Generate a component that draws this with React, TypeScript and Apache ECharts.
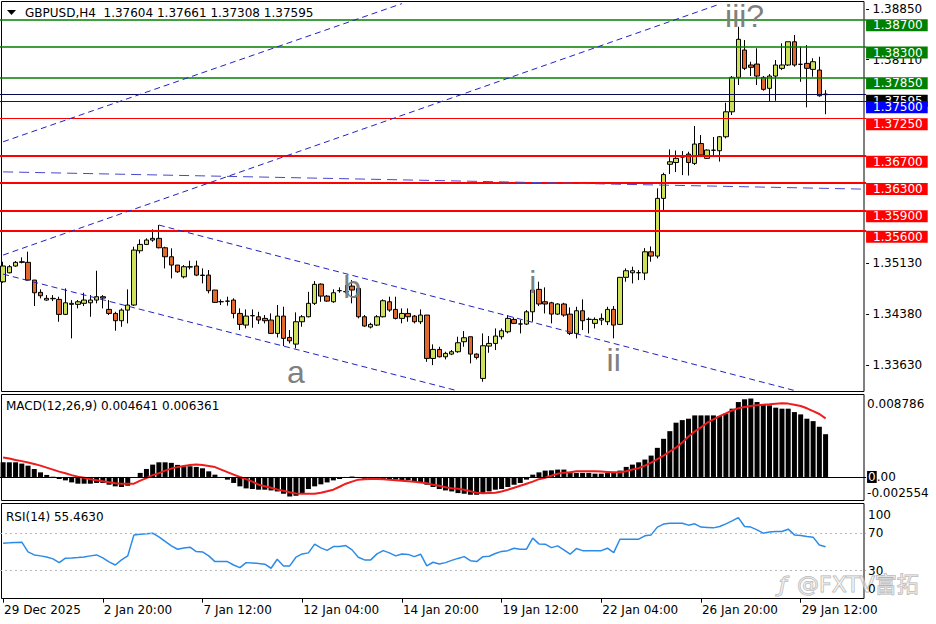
import React, { useEffect, useRef } from 'react';
import * as echarts from 'echarts';

const symbolTitle = 'GBPUSD,H4  1.37604 1.37661 1.37308 1.37595';
const macdTitle = 'MACD(12,26,9) 0.004641 0.006361';
const rsiTitle = 'RSI(14) 55.4630';
const watermarkText = '@FXTV富拓';

const timeTicks = ['29 Dec 2025', '2 Jan 20:00', '7 Jan 12:00', '12 Jan 04:00', '14 Jan 20:00', '19 Jan 12:00', '22 Jan 04:00', '26 Jan 20:00', '29 Jan 12:00'];
const BARS_PER_TICK = 16;
const SLOT_COUNT = 139;

// [open, close, low, high]
const candles: number[][] = [
  [1.34851, 1.35082, 1.34836, 1.35145], [1.34983, 1.35072, 1.34975, 1.35096], [1.35082, 1.35136, 1.35072, 1.35155], [1.35136, 1.35145, 1.35121, 1.35209],
  [1.35136, 1.34876, 1.34866, 1.35292], [1.34876, 1.34690, 1.34495, 1.34876], [1.34696, 1.34646, 1.34607, 1.34740], [1.34583, 1.34608, 1.34573, 1.34656],
  [1.34602, 1.34608, 1.34568, 1.34656], [1.34593, 1.34373, 1.34265, 1.34632], [1.34373, 1.34543, 1.34363, 1.34754], [1.34520, 1.34535, 1.34021, 1.34583],
  [1.34520, 1.34558, 1.34461, 1.34583], [1.34535, 1.34583, 1.34495, 1.34690], [1.34543, 1.34583, 1.34338, 1.34656], [1.34583, 1.34632, 1.34535, 1.35013],
  [1.34632, 1.34612, 1.34461, 1.34656], [1.34446, 1.34387, 1.34363, 1.34583], [1.34387, 1.34280, 1.34133, 1.34411], [1.34280, 1.34436, 1.34192, 1.34461],
  [1.34436, 1.34510, 1.34241, 1.34740], [1.34510, 1.35316, 1.34495, 1.35365], [1.35306, 1.35399, 1.35267, 1.35473], [1.35399, 1.35463, 1.35389, 1.35488],
  [1.35463, 1.35488, 1.35438, 1.35620], [1.35488, 1.35350, 1.35341, 1.35683], [1.35350, 1.35218, 1.35047, 1.35365], [1.35218, 1.35096, 1.34901, 1.35341],
  [1.35096, 1.34997, 1.34983, 1.35096], [1.34924, 1.35072, 1.34901, 1.35096], [1.35067, 1.35072, 1.35033, 1.35160], [1.35082, 1.34949, 1.34934, 1.35160],
  [1.34949, 1.34944, 1.34827, 1.35047], [1.34949, 1.34720, 1.34681, 1.35023], [1.34730, 1.34549, 1.34543, 1.34730], [1.34558, 1.34560, 1.34510, 1.34593],
  [1.34568, 1.34566, 1.34500, 1.34632], [1.34583, 1.34387, 1.34314, 1.34608], [1.34387, 1.34226, 1.34143, 1.34461], [1.34216, 1.34348, 1.34167, 1.34446],
  [1.34353, 1.34355, 1.34177, 1.34446], [1.34338, 1.34290, 1.34231, 1.34411], [1.34314, 1.34280, 1.34241, 1.34363], [1.34290, 1.34094, 1.34090, 1.34387],
  [1.34094, 1.34348, 1.34035, 1.34510], [1.34348, 1.34021, 1.33908, 1.34485], [1.34035, 1.33985, 1.33947, 1.34143], [1.33937, 1.34265, 1.33874, 1.34402],
  [1.34265, 1.34338, 1.34192, 1.34363], [1.34338, 1.34535, 1.34329, 1.34704], [1.34535, 1.34813, 1.34510, 1.34861], [1.34817, 1.34641, 1.34558, 1.34827],
  [1.34641, 1.34568, 1.34558, 1.34656], [1.34558, 1.34690, 1.34543, 1.34740], [1.34720, 1.34722, 1.34690, 1.34769], [1.34705, 1.34708, 1.34681, 1.34803],
  [1.34788, 1.34730, 1.34535, 1.34876], [1.34754, 1.34338, 1.34314, 1.34754], [1.34338, 1.34202, 1.34192, 1.34363], [1.34187, 1.34226, 1.34167, 1.34250],
  [1.34216, 1.34338, 1.34202, 1.34363], [1.34338, 1.34573, 1.34329, 1.34593], [1.34558, 1.34436, 1.34411, 1.34632], [1.34446, 1.34314, 1.34299, 1.34632],
  [1.34314, 1.34387, 1.34241, 1.34461], [1.34387, 1.34338, 1.34265, 1.34461], [1.34348, 1.34265, 1.34241, 1.34363], [1.34265, 1.34363, 1.34231, 1.34446],
  [1.34363, 1.33727, 1.33677, 1.34363], [1.33727, 1.33859, 1.33629, 1.33933], [1.33859, 1.33751, 1.33742, 1.33898], [1.33751, 1.33801, 1.33713, 1.33825],
  [1.33791, 1.33825, 1.33776, 1.33850], [1.33825, 1.33957, 1.33810, 1.34045], [1.33972, 1.34030, 1.33898, 1.34128], [1.34045, 1.33791, 1.33654, 1.34045],
  [1.33791, 1.33742, 1.33713, 1.33801], [1.33434, 1.33913, 1.33385, 1.34094], [1.33908, 1.33947, 1.33810, 1.34055], [1.33947, 1.34055, 1.33850, 1.34167],
  [1.34045, 1.34133, 1.34006, 1.34167], [1.34118, 1.34314, 1.34094, 1.34363], [1.34299, 1.34241, 1.34231, 1.34329], [1.34231, 1.34233, 1.34094, 1.34290],
  [1.34231, 1.34411, 1.34216, 1.34436], [1.34411, 1.34730, 1.34265, 1.34805], [1.34740, 1.34525, 1.34495, 1.34852], [1.34558, 1.34525, 1.34387, 1.34769],
  [1.34543, 1.34377, 1.34241, 1.34558], [1.34377, 1.34525, 1.34363, 1.34535], [1.34525, 1.34363, 1.34338, 1.34543], [1.34377, 1.34094, 1.34070, 1.34475],
  [1.34094, 1.34426, 1.34021, 1.34485], [1.34426, 1.34280, 1.34143, 1.34593], [1.34299, 1.34301, 1.34094, 1.34329], [1.34241, 1.34299, 1.34167, 1.34329],
  [1.34290, 1.34314, 1.34216, 1.34387], [1.34265, 1.34446, 1.34216, 1.34485], [1.34446, 1.34216, 1.34021, 1.34495], [1.34226, 1.34916, 1.34216, 1.34920],
  [1.34916, 1.35013, 1.34852, 1.35047], [1.34983, 1.35013, 1.34827, 1.35072], [1.34983, 1.34985, 1.34876, 1.35023], [1.34979, 1.35291, 1.34876, 1.35345],
  [1.35291, 1.35228, 1.35145, 1.35370], [1.35228, 1.36074, 1.35194, 1.36221], [1.36074, 1.36423, 1.35903, 1.36450], [1.36574, 1.36611, 1.36431, 1.36793],
  [1.36600, 1.36661, 1.36460, 1.36776], [1.36680, 1.36684, 1.36416, 1.36768], [1.36724, 1.36600, 1.36409, 1.36758], [1.36587, 1.36871, 1.36563, 1.37135],
  [1.36878, 1.36710, 1.36685, 1.37003], [1.36661, 1.36783, 1.36651, 1.36793], [1.36779, 1.36781, 1.36680, 1.36974], [1.36773, 1.36978, 1.36614, 1.36988],
  [1.36978, 1.37344, 1.36954, 1.37476], [1.37344, 1.37849, 1.37296, 1.37868], [1.37849, 1.38407, 1.37736, 1.38591], [1.38250, 1.37981, 1.37956, 1.38396],
  [1.38030, 1.37996, 1.37868, 1.38078], [1.38044, 1.37868, 1.37736, 1.38275], [1.37849, 1.37673, 1.37653, 1.37868], [1.37688, 1.37868, 1.37491, 1.37897],
  [1.37868, 1.38030, 1.37506, 1.38103], [1.37981, 1.38030, 1.37956, 1.38348], [1.38030, 1.38371, 1.38015, 1.38371], [1.38371, 1.38030, 1.38005, 1.38470],
  [1.38040, 1.38040, 1.37784, 1.38298], [1.38054, 1.37981, 1.37409, 1.38323], [1.37966, 1.38078, 1.37858, 1.38128], [1.37956, 1.37579, 1.37565, 1.38151],
  [1.37604, 1.37595, 1.37308, 1.37661],
];

const macdMain: number[] = [
  0.00159, 0.00159, 0.00159, 0.00145, 0.00123, 0.00087, 0.00050, 0.00022, 0.00003, -0.00022,
  -0.00037, -0.00059, -0.00073, -0.00073, -0.00073, -0.00065, -0.00065, -0.00084, -0.00102, -0.00109,
  -0.00095, -0.00010, 0.00044, 0.00087, 0.00134, 0.00159, 0.00159, 0.00153, 0.00131, 0.00116,
  0.00116, 0.00109, 0.00094, 0.00061, 0.00025, -0.00005, -0.00029, -0.00065, -0.00102, -0.00124,
  -0.00131, -0.00138, -0.00138, -0.00146, -0.00157, -0.00182, -0.00212, -0.00204, -0.00174, -0.00131,
  -0.00102, -0.00080, -0.00059, -0.00037, -0.00022, -0.00011, 0.00005, -0.00010, -0.00020, -0.00029,
  -0.00029, -0.00022, -0.00022, -0.00029, -0.00037, -0.00037, -0.00047, -0.00059, -0.00084, -0.00109,
  -0.00131, -0.00146, -0.00157, -0.00175, -0.00182, -0.00193, -0.00193, -0.00182, -0.00157, -0.00138,
  -0.00131, -0.00109, -0.00084, -0.00065, -0.00029, 0.00025, 0.00050, 0.00069, 0.00072, 0.00080,
  0.00080, 0.00055, 0.00044, 0.00044, 0.00044, 0.00036, 0.00036, 0.00044, 0.00044, 0.00069,
  0.00109, 0.00134, 0.00159, 0.00189, 0.00232, 0.00316, 0.00414, 0.00497, 0.00589, 0.00617,
  0.00632, 0.00668, 0.00668, 0.00668, 0.00668, 0.00661, 0.00690, 0.00741, 0.00813, 0.00843,
  0.00851, 0.00813, 0.00788, 0.00777, 0.00752, 0.00741, 0.00741, 0.00704, 0.00679, 0.00632,
  0.00606, 0.00545, 0.004641,
];

const macdSignal: number[] = [
  0.00210, 0.00200, 0.00185, 0.00172, 0.00156, 0.00140, 0.00123, 0.00101, 0.00080, 0.00058,
  0.00041, 0.00020, 0.00003, -0.00008, -0.00024, -0.00035, -0.00046, -0.00057, -0.00068, -0.00073,
  -0.00073, -0.00073, -0.00040, -0.00013, 0.00020, 0.00041, 0.00069, 0.00091, 0.00107, 0.00118,
  0.00129, 0.00134, 0.00129, 0.00118, 0.00107, 0.00080, 0.00052, 0.00025, 0.00000, -0.00024,
  -0.00051, -0.00084, -0.00100, -0.00117, -0.00135, -0.00149, -0.00166, -0.00179, -0.00182, -0.00182,
  -0.00182, -0.00171, -0.00155, -0.00138, -0.00106, -0.00073, -0.00051, -0.00029, -0.00024, -0.00022,
  -0.00022, -0.00024, -0.00029, -0.00035, -0.00040, -0.00046, -0.00051, -0.00059, -0.00068, -0.00084,
  -0.00095, -0.00111, -0.00122, -0.00128, -0.00138, -0.00155, -0.00171, -0.00177, -0.00174, -0.00171,
  -0.00157, -0.00138, -0.00117, -0.00095, -0.00073, -0.00051, -0.00024, -0.00008, 0.00014, 0.00036,
  0.00047, 0.00052, 0.00061, 0.00061, 0.00061, 0.00061, 0.00058, 0.00055, 0.00052, 0.00050,
  0.00063, 0.00080, 0.00096, 0.00123, 0.00156, 0.00194, 0.00232, 0.00276, 0.00319, 0.00374,
  0.00439, 0.00494, 0.00538, 0.00589, 0.00625, 0.00661, 0.00690, 0.00723, 0.00745, 0.00759,
  0.00770, 0.00777, 0.00783, 0.00788, 0.00794, 0.00799, 0.00796, 0.00783, 0.00770, 0.00745,
  0.00715, 0.00683, 0.006361,
];

const rsiValues: number[] = [
  59.3, 59.6, 60.1, 60.3, 49.9, 46.7, 45.7, 44.6, 42.5, 38.5,
  43.2, 43.5, 43.9, 44.6, 45.7, 46.7, 43.5, 39.3, 36.0, 41.4,
  45.7, 68.1, 68.7, 69.2, 69.9, 66.0, 61.2, 56.4, 52.8, 54.2,
  55.0, 50.3, 49.9, 45.7, 39.6, 39.6, 39.6, 36.0, 33.2, 38.5,
  38.2, 37.6, 36.8, 32.5, 42.1, 35.0, 35.0, 44.3, 47.8, 48.9,
  58.2, 54.2, 51.6, 55.6, 55.8, 56.7, 52.1, 44.3, 41.4, 41.4,
  47.8, 51.3, 48.9, 45.7, 47.8, 47.3, 44.9, 47.5, 35.0, 38.9,
  37.1, 38.5, 40.9, 43.0, 44.9, 40.6, 39.6, 44.9, 45.3, 48.3,
  50.5, 51.3, 53.9, 52.8, 52.8, 64.6, 58.5, 58.2, 54.5, 56.4,
  52.1, 47.5, 53.5, 51.3, 51.3, 51.3, 51.3, 53.9, 49.2, 63.5,
  63.5, 63.5, 63.5, 67.1, 68.1, 76.4, 79.6, 80.4, 80.6, 80.6,
  78.5, 79.9, 76.4, 76.1, 75.6, 77.0, 79.9, 83.1, 86.6, 77.0,
  76.4, 73.5, 69.9, 71.3, 71.7, 71.7, 74.2, 68.1, 67.4, 66.5,
  65.7, 57.4, 55.463,
];

const priceTicks = [1.3363, 1.3438, 1.3513, 1.3811, 1.3885];
const resistanceLevels = [1.387, 1.383, 1.3785];
const supportLevels = [1.3725, 1.367, 1.363, 1.359, 1.356];
const pivotLevel = 1.375;
const lastPrice = 1.37595;
const macdTicks = [-0.002554, 0, 0.008786];
const rsiTicks = [0, 30, 70, 100];
const rsiLevels = [30, 70];

// trend lines: [[barIndex, price], [barIndex, price]]
const trendLines = [
  [[0, 1.36904], [64, 1.3893]],
  [[0, 1.35243], [115, 1.38923]],
  [[25, 1.35683], [127, 1.33257]],
  [[0, 1.34963], [73, 1.33251]],
];
const flatLine = [[0, 1.36463], [138, 1.3621]];

const waveLabels = [
  { text: 'a', index: 47, price: 1.33526 },
  { text: 'b', index: 56, price: 1.34773 },
  { text: 'i', index: 85, price: 1.34849 },
  { text: 'ii', index: 98, price: 1.33709 },
  { text: 'iii?', index: 119, price: 1.38745 },
];

const PRICE_MIN = 1.33242;
const PRICE_MAX = 1.38954;
const FONT = '"DejaVu Sans", sans-serif';
const GREEN = '#008000';
const RED = '#ff0000';
const BLUE = '#0000ff';
const BULL = '#cfe05a';
const BEAR = '#e2682c';

const near = (a: number, b: number) => Math.abs(a - b) < 1e-7;

function boxStyle(bg: string) {
  return { lineHeight: 16, padding: [0, 5, 0, 7], backgroundColor: bg, color: '#fff', fontSize: 12, fontFamily: FONT };
}

function priceAxis(extra: any) {
  return {
    type: 'value', gridIndex: 0, position: 'right', min: PRICE_MIN, max: PRICE_MAX,
    splitLine: { show: false }, axisLine: { show: false }, axisTick: { show: false },
    ...extra,
  };
}

function buildOption(): any {
  const slots = Array.from({ length: SLOT_COUNT }, (_, i) => String(i));
  const gx = { left: -0.42, width: 866.5 };
  const hiddenX = (gridIndex: number) => ({
    type: 'category', gridIndex, data: slots, boundaryGap: true,
    axisLine: { show: false }, axisTick: { show: false }, axisLabel: { show: false }, splitLine: { show: false },
  });

  const levelLines = [
    ...resistanceLevels.map((l) => ({ yAxis: l, lineStyle: { color: GREEN, width: 1.5, type: 'solid' } })),
    ...supportLevels.map((l, i) => ({ yAxis: l, lineStyle: { color: RED, width: i === 0 ? 1 : 2, type: 'solid' } })),
    { yAxis: pivotLevel, lineStyle: { color: BLUE, width: 1, type: 'solid' } },
    { yAxis: lastPrice, lineStyle: { color: '#0a0a50', width: 1, type: 'solid' } },
  ];
  const dashed = trendLines.map((seg) => [
    { coord: seg[0], lineStyle: { color: '#2222c4', width: 1, type: [6, 4] } },
    { coord: seg[1] },
  ]);
  const flat = [
    { coord: flatLine[0], lineStyle: { color: '#4848cc', width: 1, type: [10, 6] } },
    { coord: flatLine[1] },
  ];

  return {
    animation: false,
    backgroundColor: '#fff',
    textStyle: { fontFamily: FONT },
    grid: [
      { ...gx, top: 2, height: 389.5 },
      { ...gx, top: 396, height: 104.5 },
      { ...gx, top: 505, height: 93.7 },
    ],
    xAxis: [
      hiddenX(0),
      hiddenX(1),
      {
        type: 'category', gridIndex: 2, data: slots, boundaryGap: true,
        axisLine: { show: false }, splitLine: { show: false },
        axisTick: { show: true, interval: BARS_PER_TICK - 1, alignWithLabel: true, length: 4, lineStyle: { color: '#000' } },
        axisLabel: {
          show: true, interval: BARS_PER_TICK - 1, align: 'left', margin: 5, color: '#000', fontSize: 12, fontFamily: FONT,
          padding: [0, 0, 0, 1],
          formatter: (_v: string, idx: number) => timeTicks[idx / BARS_PER_TICK] ?? '',
        },
      },
    ],
    yAxis: [
      priceAxis({
        axisTick: { show: true, customValues: priceTicks, length: 3, lineStyle: { color: '#000' } },
        axisLabel: { customValues: priceTicks, margin: 6.5, color: '#000', fontSize: 12, fontFamily: FONT, formatter: (v: number) => v.toFixed(5) },
      }),
      priceAxis({
        axisLabel: {
          customValues: [...resistanceLevels, ...supportLevels], margin: 0,
          formatter: (v: number) => (resistanceLevels.some((l) => near(l, v)) ? `{s| }\n{g|${v.toFixed(5)}}` : `{s| }\n{r|${v.toFixed(5)}}`),
          rich: { s: { lineHeight: 12, fontSize: 1 }, g: boxStyle(GREEN), r: boxStyle(RED) },
        },
      }),
      priceAxis({
        axisLabel: {
          customValues: [lastPrice], margin: 0,
          formatter: (v: number) => `{s| }\n{k|${v.toFixed(5)}}`,
          rich: { s: { lineHeight: 12, fontSize: 1 }, k: boxStyle('#000') },
        },
      }),
      priceAxis({
        axisLabel: {
          customValues: [pivotLevel], margin: 0,
          formatter: (v: number) => `{s| }\n{b|${v.toFixed(5)}}`,
          rich: { s: { lineHeight: 12, fontSize: 1 }, b: boxStyle(BLUE) },
        },
      }),
      {
        type: 'value', gridIndex: 1, position: 'right', min: macdTicks[0], max: macdTicks[2],
        splitLine: { show: false }, axisLine: { show: false }, axisTick: { show: false },
        axisLabel: {
          customValues: macdTicks, margin: 1, color: '#000',
          formatter: (v: number) => (v > 0.001 ? `{s| }\n{t|${v.toFixed(6)}}` : v < -0.001 ? `{t|${v.toFixed(6)}}\n{s| }` : '{z|0}{t|.00}'),
          rich: {
            s: { lineHeight: 16, fontSize: 1 },
            t: { fontSize: 12, color: '#000', fontFamily: FONT, lineHeight: 14 },
            z: { fontSize: 12, color: '#fff', backgroundColor: '#000', fontFamily: FONT, lineHeight: 14, padding: [0, 1, 0, 1] },
          },
        },
      },
      {
        type: 'value', gridIndex: 2, position: 'right', min: 0, max: 100,
        splitLine: { show: false }, axisLine: { show: false }, axisTick: { show: false },
        axisLabel: {
          customValues: rsiTicks, margin: 2, color: '#000',
          formatter: (v: number) => (v >= 100 ? `{s| }\n{t|${v}}` : v <= 0 ? `{t|${v}}\n{s| }` : `{t|${v}}`),
          rich: { s: { lineHeight: 20, fontSize: 1 }, t: { fontSize: 12, color: '#000', fontFamily: FONT, lineHeight: 14 } },
        },
      },
    ],
    series: [
      {
        type: 'candlestick', xAxisIndex: 0, yAxisIndex: 0, data: candles, barWidth: 5,
        itemStyle: { color: BULL, color0: BEAR, borderColor: '#000', borderColor0: '#000', borderColorDoji: '#000', borderWidth: 1 },
        markLine: {
          silent: true, symbol: ['none', 'none'], animation: false, precision: 6, label: { show: false },
          data: [...levelLines, ...dashed, flat],
        },
        markPoint: {
          silent: true, symbol: 'circle', symbolSize: 1, animation: false,
          itemStyle: { color: 'rgba(0,0,0,0)' },
          label: { show: true, position: 'inside', formatter: (p: any) => p.name, fontSize: 32, color: '#808080', fontFamily: '"Liberation Sans", Arial, sans-serif' },
          data: waveLabels.map((w) => ({ name: w.text, coord: [w.index, w.price] })),
        },
      },
      {
        type: 'bar', xAxisIndex: 1, yAxisIndex: 4, data: macdMain, barWidth: 5,
        itemStyle: { color: '#000' },
        markLine: {
          silent: true, symbol: ['none', 'none'], animation: false, precision: 6, label: { show: false },
          data: [{ yAxis: 0, lineStyle: { color: '#000', width: 1, type: 'solid' } }],
        },
      },
      {
        type: 'line', xAxisIndex: 1, yAxisIndex: 4, data: macdSignal, symbol: 'none', showSymbol: false,
        lineStyle: { color: '#ee1c1c', width: 2 },
      },
      {
        type: 'line', xAxisIndex: 2, yAxisIndex: 5, data: rsiValues, symbol: 'none', showSymbol: false,
        lineStyle: { color: '#2b8be8', width: 1.5 },
        markLine: {
          silent: true, symbol: ['none', 'none'], animation: false, precision: 6, label: { show: false },
          data: rsiLevels.map((l) => ({ yAxis: l, lineStyle: { color: '#b8b8b8', width: 1, type: [2, 3] } })),
        },
      },
    ],
    graphic: [
      { type: 'rect', silent: true, shape: { x: 1.5, y: 1.5, width: 862.5, height: 390 }, style: { fill: 'none', stroke: '#000', lineWidth: 1 } },
      { type: 'rect', silent: true, shape: { x: 1.5, y: 394.5, width: 862.5, height: 106 }, style: { fill: 'none', stroke: '#000', lineWidth: 1 } },
      { type: 'rect', silent: true, shape: { x: 1.5, y: 503.5, width: 862.5, height: 95 }, style: { fill: 'none', stroke: '#000', lineWidth: 1 } },
      { type: 'polygon', silent: true, shape: { points: [[7, 10], [16, 10], [11.5, 15]] }, style: { fill: '#000' } },
      { type: 'text', silent: true, x: 25, y: 13, style: { text: symbolTitle, fill: '#000', font: `12px ${FONT}`, verticalAlign: 'middle' } },
      { type: 'text', silent: true, x: 6, y: 406, style: { text: macdTitle, fill: '#000', font: `12px ${FONT}`, verticalAlign: 'middle' } },
      { type: 'text', silent: true, x: 6, y: 516.5, style: { text: rsiTitle, fill: '#000', font: `12px ${FONT}`, verticalAlign: 'middle' } },
      { type: 'text', silent: true, x: 779, y: 584, style: { text: 'ƒ', fill: 'rgba(255,255,255,0.4)', stroke: '#b4b4b4', lineWidth: 1, font: `italic 22px ${FONT}`, verticalAlign: 'middle' } },
      { type: 'text', silent: true, x: 797, y: 584, style: { text: watermarkText, fill: 'rgba(255,255,255,0.4)', stroke: '#b4b4b4', lineWidth: 1, font: `22px "DejaVu Sans", "Noto Sans CJK SC", sans-serif`, verticalAlign: 'middle' } },
    ],
  };
}

export default function App() {
  const ref = useRef<HTMLDivElement>(null);
  useEffect(() => {
    if (!ref.current) return;
    const chart = echarts.init(ref.current, null, { renderer: 'svg' });
    chart.setOption(buildOption());
    return () => chart.dispose();
  }, []);
  return <div ref={ref} style={{ position: 'fixed', left: 0, top: 0, width: 936, height: 624, background: '#fff' }} />;
}
